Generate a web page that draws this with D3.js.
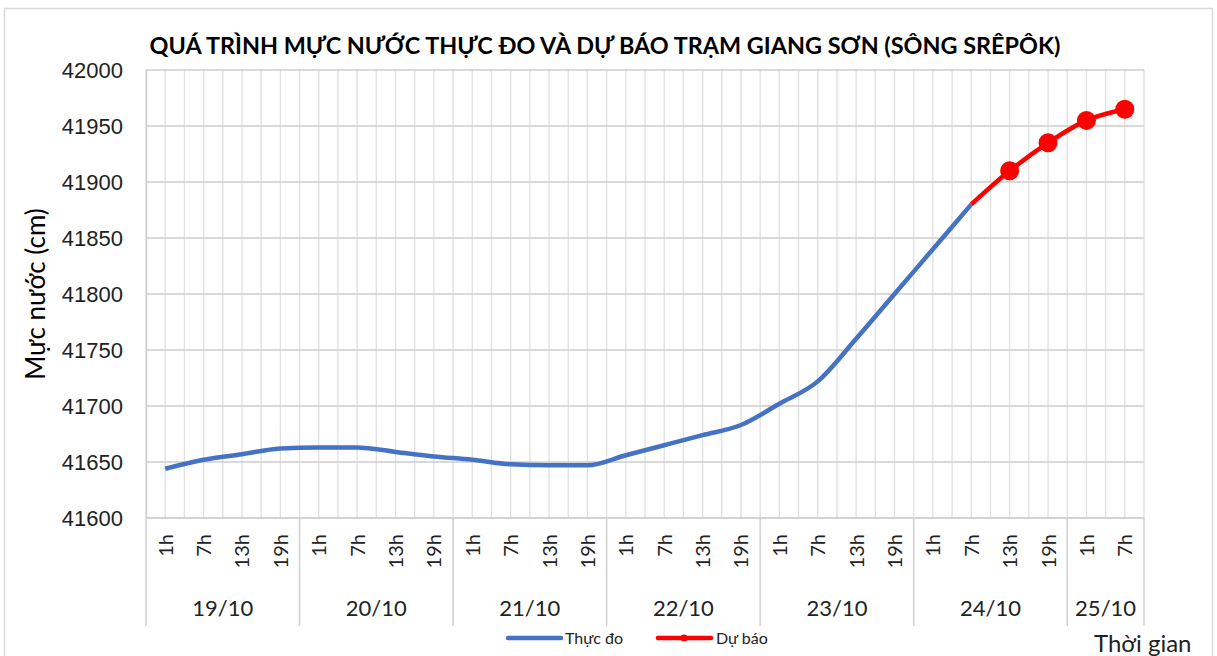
<!DOCTYPE html>
<html>
<head>
<meta charset="utf-8">
<script src="https://cdn.jsdelivr.net/npm/d3@7"></script>
<style>
  body { margin: 0; background: #fff; }
  svg { font-family: Lato, "Open Sans", sans-serif; }
</style>
</head>
<body>
<div id="chart"></div>
<script>
// categories: day groups and hours
const days = ['19/10', '20/10', '21/10', '22/10', '23/10', '24/10', '25/10'];
const hours = ['1h', '7h', '13h', '19h'];
const categories = [];
days.forEach(d => {
    const hs = d === '25/10' ? ['1h', '7h'] : hours;
    hs.forEach(h => categories.push({ day: d, hour: h, key: d + ' ' + h }));
});

// measured water level (cm)
const observed = [41644, 41652, 41657, 41662, 41663, 41663, 41659, 41655,
    41652, 41648, 41647, 41647, 41656, 41665, 41674, 41683,
    41702, 41722, 41760, 41800, 41840, 41880];
// forecast starts at 24/10 7h
const forecastStart = 21;
const forecast = [41880, 41910, 41935, 41955, 41965];
const yTicks = [41600, 41650, 41700, 41750, 41800, 41850, 41900, 41950, 42000];

const W = 1217, H = 656;
const margin = { left: 146, right: 73, top: 70, bottom: 138 };

const svg = d3.select('#chart').append('svg')
    .attr('width', W).attr('height', H);

// outer frame
svg.append('rect')
    .attr('x', 4.5).attr('y', 8.5)
    .attr('width', 1208).attr('height', 660)
    .attr('fill', 'none').attr('stroke', '#d9d9d9').attr('stroke-width', 1.5);

const x = d3.scaleBand()
    .domain(categories.map(c => c.key))
    .range([margin.left, W - margin.right])
    .padding(0);
const y = d3.scaleLinear()
    .domain([41600, 42000])
    .range([H - margin.bottom, margin.top]);

const cx = k => x(k) + x.bandwidth() / 2;

// vertical grid lines at category edges and centres
const vlines = [];
categories.forEach(c => { vlines.push(x(c.key)); vlines.push(cx(c.key)); });
vlines.push(W - margin.right);
svg.append('g').selectAll('line')
    .data(vlines)
    .join('line')
    .attr('x1', d => d).attr('x2', d => d)
    .attr('y1', y(42000)).attr('y2', y(41600))
    .attr('stroke', '#e0e0e0').attr('stroke-width', 1.3);

// horizontal grid lines
svg.append('g').selectAll('line')
    .data(yTicks)
    .join('line')
    .attr('x1', margin.left).attr('x2', W - margin.right)
    .attr('y1', d => y(d)).attr('y2', d => y(d))
    .attr('stroke', '#cccccc').attr('stroke-width', 1.5);

// y axis
const yAxis = svg.append('g')
    .attr('transform', `translate(${margin.left},0)`)
    .call(d3.axisLeft(y).tickValues(yTicks).tickSize(0).tickPadding(23).tickFormat(d3.format('d')));
yAxis.select('.domain').attr('stroke', '#d0d0d0').attr('stroke-width', 1.5);
yAxis.selectAll('text').attr('font-size', 22).attr('fill', '#222').attr('dy', '0.35em');

svg.append('text')
    .attr('transform', `translate(36,${(y(41600) + y(42000)) / 2}) rotate(-90)`)
    .attr('text-anchor', 'middle')
    .attr('dy', '0.35em')
    .attr('font-size', 26)
    .attr('fill', '#000')
    .text('Mực nước (cm)');

// x axis: hour labels
const base = y(41600);
svg.append('line')
    .attr('x1', margin.left).attr('x2', W - margin.right)
    .attr('y1', base).attr('y2', base)
    .attr('stroke', '#d0d0d0').attr('stroke-width', 1.5);

svg.append('g').selectAll('text')
    .data(categories)
    .join('text')
    .attr('transform', d => `translate(${cx(d.key) + 7.5},${base + 16}) rotate(-90)`)
    .attr('text-anchor', 'end')
    .attr('font-size', 20)
    .attr('fill', '#222')
    .text(d => d.hour);

// day groups
const groupEdges = days.map(d => {
    const cs = categories.filter(c => c.day === d);
    return { day: d, x0: x(cs[0].key), x1: x(cs[cs.length - 1].key) + x.bandwidth() };
});
svg.append('g').selectAll('line')
    .data(groupEdges.map(g => g.x0).concat([W - margin.right]))
    .join('line')
    .attr('x1', d => d).attr('x2', d => d)
    .attr('y1', base).attr('y2', 626)
    .attr('stroke', '#d0d0d0').attr('stroke-width', 1.5);
svg.append('g').selectAll('text')
    .data(groupEdges)
    .join('text')
    .attr('x', d => (d.x0 + d.x1) / 2)
    .attr('y', 616)
    .attr('text-anchor', 'middle')
    .attr('font-size', 22)
    .attr('fill', '#222')
    .text(d => d.day);

// lines
const line = d3.line()
    .x(d => cx(categories[d.i].key))
    .y(d => y(d.v))
    .curve(d3.curveMonotoneX);

const obsData = observed.map((v, i) => ({ i, v }));
const fcData = forecast.map((v, j) => ({ i: forecastStart + j, v }));

svg.append('path')
    .datum(obsData)
    .attr('d', line)
    .attr('fill', 'none')
    .attr('stroke', '#4472c4')
    .attr('stroke-width', 4.5)
    .attr('stroke-linejoin', 'round');

svg.append('path')
    .datum(fcData)
    .attr('d', line)
    .attr('fill', 'none')
    .attr('stroke', '#ff0000')
    .attr('stroke-width', 4.5)
    .attr('stroke-linejoin', 'round');

svg.append('g').selectAll('circle')
    .data(fcData.slice(1))
    .join('circle')
    .attr('cx', d => cx(categories[d.i].key))
    .attr('cy', d => y(d.v))
    .attr('r', 9.5)
    .attr('fill', '#ff0000');

// title
svg.append('text')
    .attr('x', 605).attr('y', 54)
    .attr('text-anchor', 'middle')
    .attr('font-size', 23.4)
    .attr('font-weight', 'bold')
    .attr('fill', '#000')
    .text('QUÁ TRÌNH MỰC NƯỚC THỰC ĐO VÀ DỰ BÁO TRẠM GIANG SƠN (SÔNG SRÊPÔK)');

// legend
const legend = svg.append('g').attr('transform', 'translate(0,638)');
legend.append('line')
    .attr('x1', 508).attr('x2', 561).attr('y1', 0).attr('y2', 0)
    .attr('stroke', '#4472c4').attr('stroke-width', 4.5).attr('stroke-linecap', 'round');
legend.append('text')
    .attr('x', 565).attr('y', 6).attr('font-size', 16).attr('fill', '#222').text('Thực đo');
legend.append('line')
    .attr('x1', 658).attr('x2', 711).attr('y1', 0).attr('y2', 0)
    .attr('stroke', '#ff0000').attr('stroke-width', 4.5).attr('stroke-linecap', 'round');
legend.append('circle')
    .attr('cx', 684).attr('cy', 0).attr('r', 3.5).attr('fill', '#ff0000');
legend.append('text')
    .attr('x', 716).attr('y', 6).attr('font-size', 16).attr('fill', '#222').text('Dự báo');

svg.append('text')
    .attr('x', 1094).attr('y', 652)
    .attr('font-size', 24)
    .attr('fill', '#222')
    .text('Thời gian');
</script>
</body>
</html>
